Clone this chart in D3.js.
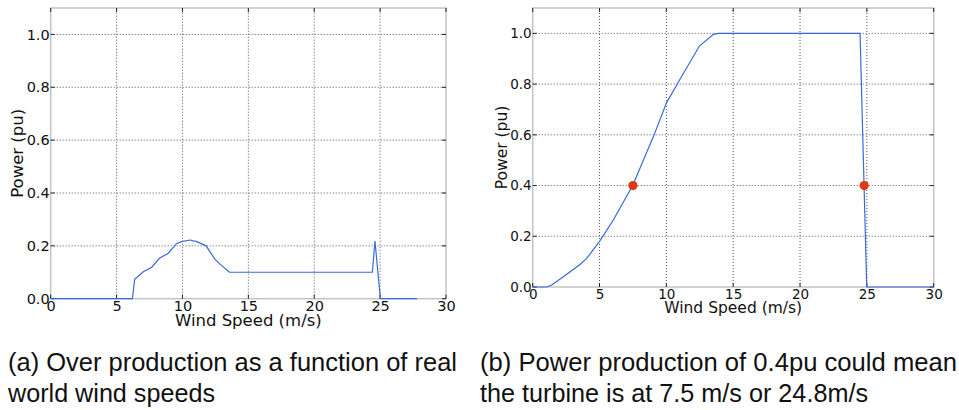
<!DOCTYPE html>
<html>
<head>
<meta charset="utf-8">
<script src="https://cdn.jsdelivr.net/npm/d3@7"></script>
<style>
  html, body { margin: 0; padding: 0; background: #fff; }
  svg { display: block; }
</style>
</head>
<body>
<svg id="chart" width="959" height="410"></svg>
<script>
// Wind speed ticks shared by both panels
const xTicks = [0, 5, 10, 15, 20, 25, 30];
const yTicks = [0, 0.2, 0.4, 0.6, 0.8, 1.0];

// Panel (a): over production against real world wind speeds
const overSpeed = [0, 6.2, 6.37, 7.03, 7.67, 8.25, 8.93, 9.56, 9.94, 10.57, 11.08, 11.79, 12.47, 12.85, 13.56, 24.41, 24.61, 25.02, 27.8];
const overPower = [0, 0, 0.073, 0.102, 0.119, 0.153, 0.172, 0.209, 0.216, 0.222, 0.216, 0.2, 0.149, 0.131, 0.1, 0.1, 0.218, 0, 0];

// Panel (b): turbine power curve
const curveSpeed = [0, 1.05, 1.42, 2.29, 3.54, 4.04, 4.99, 6.03, 7.48, 9.03, 10.02, 11.02, 12.47, 13.52, 13.9, 24.49, 24.99, 30];
const curvePower = [0, 0, 0.008, 0.04, 0.089, 0.113, 0.179, 0.264, 0.4, 0.593, 0.727, 0.819, 0.95, 0.996, 1, 1, 0, 0];

// Operating points giving 0.4 pu
const markSpeed = [7.5, 24.8];
const markPower = [0.4, 0.4];

const captionA = ["(a) Over production as a function of real", "world wind speeds"];
const captionB = ["(b) Power production of 0.4pu could mean", "the turbine is at 7.5 m/s or 24.8m/s"];

const svg = d3.select("#chart");
const lineColor = "#3a6ad8";
const dotColor = "#dd3a14";

function panel(opt) {
  const x = d3.scaleLinear().domain([0, 30]).range([opt.left, opt.right]);
  const y = d3.scaleLinear().domain([0, 1.1]).range([opt.bottom, opt.top]);
  const g = svg.append("g");

  // dotted grid
  g.append("g").selectAll("line").data(xTicks.slice(1, -1)).join("line")
    .attr("x1", d => x(d)).attr("x2", d => x(d))
    .attr("y1", y(0)).attr("y2", y(1.1))
    .attr("stroke", "#555").attr("stroke-width", 1).attr("stroke-dasharray", "1,2");
  g.append("g").selectAll("line").data(yTicks.slice(1)).join("line")
    .attr("x1", x(0)).attr("x2", x(30))
    .attr("y1", d => y(d)).attr("y2", d => y(d))
    .attr("stroke", "#555").attr("stroke-width", 1).attr("stroke-dasharray", "1,2");

  // frame
  g.append("rect")
    .attr("x", x(0)).attr("y", y(1.1))
    .attr("width", x(30) - x(0)).attr("height", y(0) - y(1.1))
    .attr("fill", "none").attr("stroke", "#c4c4c4").attr("stroke-width", 1.5);

  // inward ticks on all four sides
  const tk = 4;
  const tg = g.append("g").attr("stroke", "#222").attr("stroke-width", 1);
  xTicks.forEach(d => {
    tg.append("line").attr("x1", x(d)).attr("x2", x(d)).attr("y1", y(0)).attr("y2", y(0) - tk);
    tg.append("line").attr("x1", x(d)).attr("x2", x(d)).attr("y1", y(1.1)).attr("y2", y(1.1) + tk);
  });
  yTicks.forEach(d => {
    tg.append("line").attr("x1", x(0)).attr("x2", x(0) + tk).attr("y1", y(d)).attr("y2", y(d));
    tg.append("line").attr("x1", x(30)).attr("x2", x(30) - tk).attr("y1", y(d)).attr("y2", y(d));
  });

  // axes for tick labels
  const xa = g.append("g").attr("transform", `translate(0,${y(0)})`)
    .call(d3.axisBottom(x).tickValues(xTicks).tickFormat(d3.format("d")).tickSize(0).tickPadding(2));
  const ya = g.append("g").attr("transform", `translate(${x(0)},0)`)
    .call(d3.axisLeft(y).tickValues(yTicks).tickFormat(d3.format(".1f")).tickSize(0).tickPadding(1));
  [xa, ya].forEach(a => {
    a.select(".domain").remove();
    a.selectAll("text").attr("font-family", "DejaVu Sans").attr("font-size", opt.tickFont).attr("fill", "#111");
  });

  // data line
  const pts = opt.sx.map((s, i) => [s, opt.sy[i]]);
  g.append("path").datum(pts)
    .attr("d", d3.line().x(d => x(d[0])).y(d => y(d[1])))
    .attr("fill", "none").attr("stroke", lineColor).attr("stroke-width", 1.2);

  if (opt.mx) {
    g.append("g").selectAll("circle").data(opt.mx.map((s, i) => [s, opt.my[i]])).join("circle")
      .attr("cx", d => x(d[0])).attr("cy", d => y(d[1])).attr("r", 4.6)
      .attr("fill", dotColor);
  }

  // axis titles
  g.append("text").attr("x", (x(0) + x(30)) / 2).attr("y", opt.xLabelY)
    .attr("text-anchor", "middle").attr("font-family", "DejaVu Sans")
    .attr("font-size", opt.labelFont).attr("fill", "#111").text("Wind Speed (m/s)");
  g.append("text")
    .attr("transform", `translate(${opt.yLabelX},${(y(0) + y(1.1)) / 2}) rotate(-90)`)
    .attr("text-anchor", "middle").attr("font-family", "DejaVu Sans")
    .attr("font-size", opt.labelFont).attr("fill", "#111").text("Power (pu)");

  // caption below
  opt.caption.forEach((t, i) => {
    svg.append("text").attr("x", opt.capX).attr("y", 371 + i * 31)
      .attr("font-family", "Liberation Sans, Arial, sans-serif").attr("font-size", 25)
      .attr("textLength", opt.capWidths[i]).attr("lengthAdjust", "spacingAndGlyphs")
      .attr("fill", "#111").text(t);
  });
}

panel({
  left: 50.7, right: 446, top: 8, bottom: 298.7,
  sx: overSpeed, sy: overPower,
  tickFont: 14.5, labelFont: 16.5, xLabelY: 326, yLabelX: 23,
  caption: captionA, capX: 8, capWidths: [449, 207]
});

panel({
  left: 532.7, right: 933.7, top: 8, bottom: 287,
  sx: curveSpeed, sy: curvePower, mx: markSpeed, my: markPower,
  tickFont: 13.5, labelFont: 15.5, xLabelY: 313, yLabelX: 507,
  caption: captionB, capX: 480, capWidths: [477, 388]
});
</script>
</body>
</html>
